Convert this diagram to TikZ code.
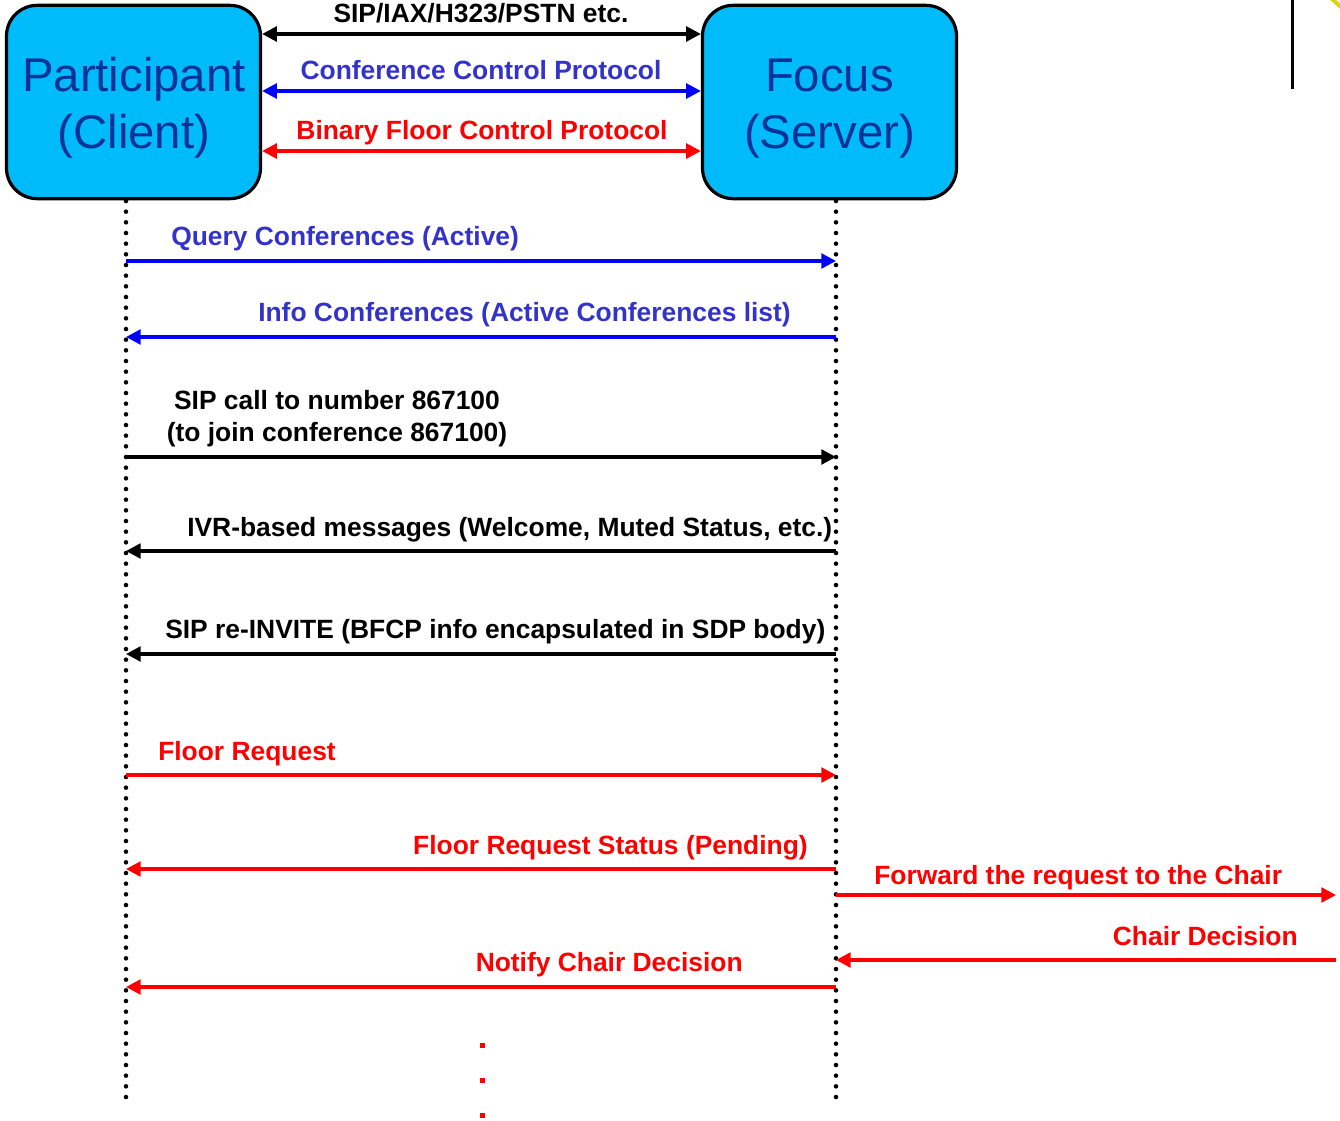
\documentclass[tikz,border=0pt]{standalone}
\usepackage{fontspec}
\setmainfont{Liberation Sans}
\usetikzlibrary{arrows.meta}

\definecolor{boxfill}{RGB}{0,187,250}
\definecolor{boxtext}{RGB}{0,51,153}
\definecolor{ctlblue}{RGB}{0,0,255}
\definecolor{lblblue}{RGB}{51,51,204}
\definecolor{ctlred}{RGB}{255,0,0}
\definecolor{marker}{RGB}{215,215,0}

\begin{document}
\begin{tikzpicture}[x=0.75pt,y=-0.75pt,
  entity/.style={draw=black, line width=2.4pt, fill=boxfill, rounded corners=23pt,
    minimum width=190.5pt, minimum height=145pt, inner sep=0pt},
  entitytext/.style={align=center, text=boxtext, inner sep=0pt,
    font=\fontsize{35.5}{42.5}\selectfont},
  msg/.style={line width=2.5pt, -{Triangle[length=11pt,width=11pt]}},
  both/.style={line width=2.5pt, {Triangle[length=11pt,width=11pt]}-{Triangle[length=11pt,width=11pt]}},
  lbl/.style={font=\fontsize{19.8}{23.5}\selectfont\bfseries, inner sep=0pt},
  lifeline/.style={line width=3.4pt, line cap=round, dash pattern=on 0pt off 8pt},
]
\useasboundingbox (0,0) rectangle (1340,1121);

% the two entities
\node[entity] (part) at (133.5,102) {};
\node[entity] (focus) at (829.5,102) {};
\node[entitytext, anchor=base] (parttext) at (134,148) {Participant\\(Client)};
\node[entitytext, anchor=base] (focustext) at (829.5,148) {Focus\\(Server)};

% protocol links between the boxes
\coordinate (pa) at (part.east |- 0,34);  \coordinate (fa) at (focus.west |- 0,34);
\coordinate (pb) at (part.east |- 0,91);  \coordinate (fb) at (focus.west |- 0,91);
\coordinate (pc) at (part.east |- 0,151); \coordinate (fc) at (focus.west |- 0,151);
\draw[both, black] (pa) -- (fa);
\draw[both, ctlblue] (pb) -- (fb);
\draw[both, ctlred] (pc) -- (fc);
\node[lbl, anchor=base] (la) at (481,22) {SIP/IAX/H323/PSTN etc.};
\node[lbl, anchor=base, text=lblblue] (lb) at (481,79) {Conference Control Protocol};
\node[lbl, anchor=base, text=ctlred] (lc) at (482,139) {Binary Floor Control Protocol};

% lifelines
\coordinate (P0) at (126,201); \coordinate (P1) at (126,1098);
\coordinate (F0) at (836,201); \coordinate (F1) at (836,1098);
\draw[lifeline] (P0) -- (P1);
\draw[lifeline] (F0) -- (F1);

% message anchors on the lifelines
\foreach \n/\y in {1/261,2/337,3/457,4/551,5/654,6/775,7/869,8/895,9/960,10/987}{
  \coordinate (p\n) at (126,\y);
  \coordinate (f\n) at (836,\y);
}
\coordinate (c8) at (1336,895);
\coordinate (c9) at (1336,960);

% messages
\draw[msg, ctlblue] (p1) -- (f1);
\node[lbl, anchor=base west, text=lblblue] (m1) at (171,245) {Query Conferences (Active)};

\draw[msg, ctlblue] (f2) -- (p2);
\node[lbl, anchor=base west, text=lblblue] (m2) at (258,321) {Info Conferences (Active Conferences list)};

\draw[msg, black] (p3) -- (f3);
\node[lbl, anchor=base, align=center] (m3) at (337,441) {SIP call to number 867100\\(to join conference 867100)};

\draw[msg, black] (f4) -- (p4);
\node[lbl, anchor=base west] (m4) at (187,536) {IVR-based messages (Welcome, Muted Status, etc.)};

\draw[msg, black] (f5) -- (p5);
\node[lbl, anchor=base west] (m5) at (165,638) {SIP re-INVITE (BFCP info encapsulated in SDP body)};

\draw[msg, ctlred] (p6) -- (f6);
\node[lbl, anchor=base west, text=ctlred] (m6) at (158,760) {Floor Request};

\draw[msg, ctlred] (f7) -- (p7);
\node[lbl, anchor=base east, text=ctlred] (m7) at (808,854) {Floor Request Status (Pending)};

\draw[msg, ctlred] (f8) -- (c8);
\node[lbl, anchor=base west, text=ctlred] (m8) at (874,884) {Forward the request to the Chair};

\draw[msg, ctlred] (c9) -- (f9);
\node[lbl, anchor=base east, text=ctlred] (m9) at (1298,945) {Chair Decision};

\draw[msg, ctlred] (f10) -- (p10);
\node[lbl, anchor=base east, text=ctlred] (m10) at (743,971) {Notify Chair Decision};

% continuation dots
\foreach \y in {1045,1080,1115}
  \fill[ctlred] (479.5,\y-2.5) rectangle +(5,5);

% marks in the upper right corner
\draw[line width=2.4pt] (1292.5,0) -- (1292.5,89);
\draw[marker, line width=3pt] (1331,-2) -- (1342,8);
\end{tikzpicture}
\end{document}
